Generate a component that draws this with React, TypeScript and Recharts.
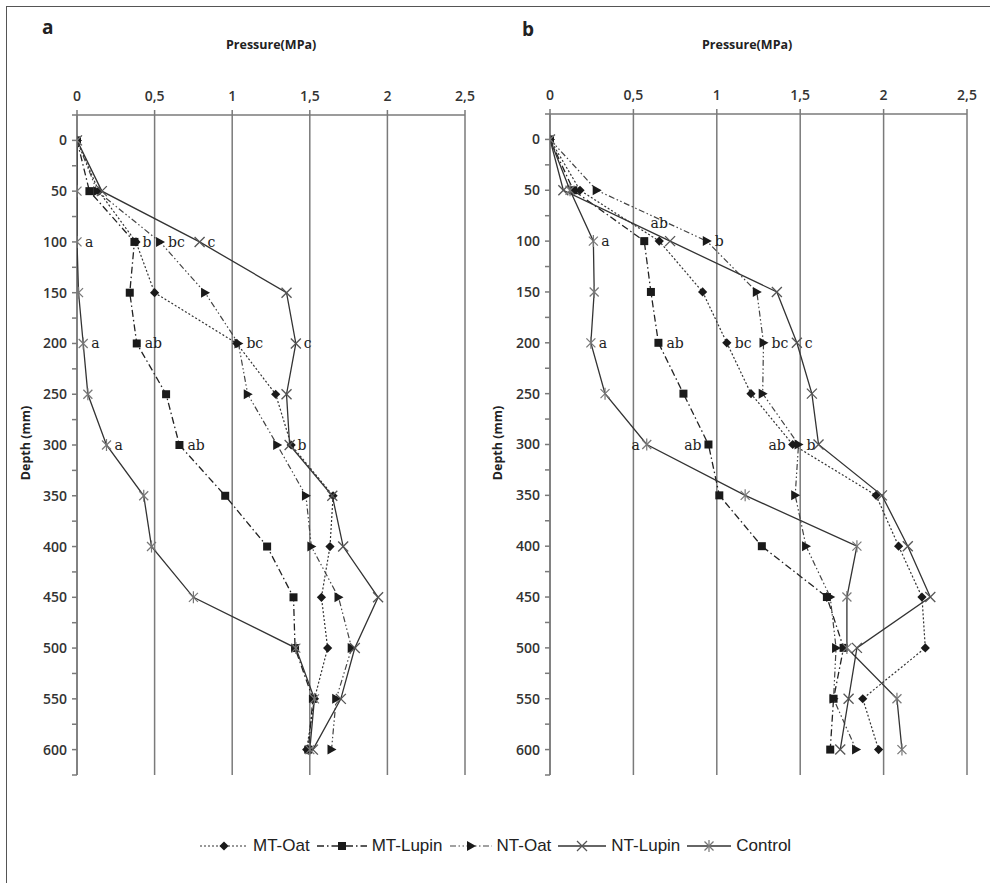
import React from 'react';
import { ScatterChart, Scatter, XAxis, YAxis, CartesianGrid } from 'recharts';

// ---- data ----
const depths = [0, 50, 100, 150, 200, 250, 300, 350, 400, 450, 500, 550, 600];
const seriesNames = ['MT-Oat', 'MT-Lupin', 'NT-Oat', 'NT-Lupin', 'Control'];
const pressureTicks = [0, 0.5, 1, 1.5, 2, 2.5];
const depthTicks = [-25, 0, 25, 50, 75, 100, 125, 150, 175, 200, 225, 250, 275, 300, 325, 350, 375, 400, 425, 450, 475, 500, 525, 550, 575, 600, 625];

// Panel a
const aMTOat = [0, 0.14, 0.38, 0.5, 1.03, 1.28, 1.38, 1.65, 1.63, 1.575, 1.615, 1.53, 1.48];
const aMTLupin = [0, 0.08, 0.37, 0.34, 0.385, 0.574, 0.66, 0.955, 1.225, 1.395, 1.405, 1.52, 1.49];
const aNTOat = [0, 0.13, 0.535, 0.825, 1.04, 1.1, 1.29, 1.475, 1.51, 1.685, 1.77, 1.67, 1.64];
const aNTLupin = [0, 0.16, 0.79, 1.35, 1.41, 1.35, 1.37, 1.645, 1.715, 1.94, 1.79, 1.7, 1.52];
const aControl = [0, 0, 0, 0.01, 0.04, 0.07, 0.19, 0.43, 0.48, 0.75, 1.41, 1.53, 1.5];

// Panel b
const bMTOat = [0, 0.18, 0.655, 0.915, 1.06, 1.205, 1.455, 1.955, 2.09, 2.23, 2.25, 1.875, 1.97];
const bMTLupin = [0, 0.14, 0.565, 0.605, 0.65, 0.8, 0.95, 1.015, 1.27, 1.66, 1.76, 1.7, 1.68];
const bNTOat = [0, 0.28, 0.94, 1.24, 1.28, 1.275, 1.49, 1.47, 1.535, 1.68, 1.715, 1.7, 1.835];
const bNTLupin = [0, 0.08, 0.72, 1.36, 1.48, 1.57, 1.61, 1.99, 2.145, 2.28, 1.84, 1.79, 1.74];
const bControl = [0, 0.12, 0.26, 0.265, 0.245, 0.33, 0.58, 1.17, 1.84, 1.78, 1.78, 2.08, 2.11];

// significance letters: series, depth, text, side of the marker
const lettersA = [
  ['Control', 100, 'a', 'right'], ['MT-Lupin', 100, 'b', 'right'], ['NT-Oat', 100, 'bc', 'right'], ['NT-Lupin', 100, 'c', 'right'],
  ['Control', 200, 'a', 'right'], ['MT-Lupin', 200, 'ab', 'right'], ['NT-Oat', 200, 'bc', 'right'], ['NT-Lupin', 200, 'c', 'right'],
  ['Control', 300, 'a', 'right'], ['MT-Lupin', 300, 'ab', 'right'], ['NT-Lupin', 300, 'b', 'right'],
];
const lettersB = [
  ['Control', 100, 'a', 'right'], ['MT-Oat', 100, 'ab', 'above'], ['NT-Oat', 100, 'b', 'right'],
  ['Control', 200, 'a', 'right'], ['MT-Lupin', 200, 'ab', 'right'], ['MT-Oat', 200, 'bc', 'right'], ['NT-Oat', 200, 'bc', 'right'], ['NT-Lupin', 200, 'c', 'right'],
  ['Control', 300, 'a', 'left'], ['MT-Lupin', 300, 'ab', 'left'], ['MT-Oat', 300, 'ab', 'left'], ['NT-Oat', 300, 'b', 'right'],
];

// ---- styles ----
const DARK = '#1a1a1a';
const GRIDC = '#7a7a7a';

const Diamond = ({ cx, cy }: any) => {
  const r = 4.6;
  return <path d={`M${cx},${cy - r}L${cx + r},${cy}L${cx},${cy + r}L${cx - r},${cy}Z`} fill={DARK} />;
};
const Square = ({ cx, cy }: any) => <rect x={cx - 4} y={cy - 4} width={8} height={8} fill={DARK} />;
const Tri = ({ cx, cy }: any) => (
  <path d={`M${cx - 4},${cy - 5}L${cx + 5},${cy}L${cx - 4},${cy + 5}Z`} fill={DARK} />
);
const XMark = ({ cx, cy }: any) => (
  <g stroke="#555" strokeWidth={1.3}>
    <line x1={cx - 5} y1={cy - 5} x2={cx + 5} y2={cy + 5} />
    <line x1={cx - 5} y1={cy + 5} x2={cx + 5} y2={cy - 5} />
  </g>
);
const Star = ({ cx, cy }: any) => (
  <g stroke="#777" strokeWidth={1.2}>
    <line x1={cx - 4.5} y1={cy - 4.5} x2={cx + 4.5} y2={cy + 4.5} />
    <line x1={cx - 4.5} y1={cy + 4.5} x2={cx + 4.5} y2={cy - 4.5} />
    <line x1={cx} y1={cy - 6} x2={cx} y2={cy + 6} />
  </g>
);

const seriesStyle: Record<string, any> = {
  'MT-Oat': { dash: '2 2', stroke: '#333', width: 1.2, Marker: Diamond, sample: 48 },
  'MT-Lupin': { dash: '7 3 1.5 3', stroke: '#222', width: 1.3, Marker: Square, sample: 50 },
  'NT-Oat': { dash: '6 2.5 1.5 2.5 1.5 2.5', stroke: '#444', width: 1.2, Marker: Tri, sample: 42 },
  'NT-Lupin': { dash: undefined, stroke: '#333', width: 1.3, Marker: XMark, sample: 48 },
  'Control': { dash: undefined, stroke: '#333', width: 1.3, Marker: Star, sample: 44 },
};

const toPoints = (vals: number[]) => vals.map((v, i) => ({ x: v, y: depths[i] }));

const LetterShape = (props: any) => {
  const { cx, cy, payload } = props;
  const side = payload.side;
  let x = cx + 8;
  let y = cy + 5;
  let anchor: any = 'start';
  if (side === 'left') { x = cx - 7; anchor = 'end'; }
  if (side === 'above') { x = cx; y = cy - 13; anchor = 'middle'; }
  return (
    <text x={x} y={y} textAnchor={anchor} fontFamily="DejaVu Serif" fontSize={14} fill="#222">
      {payload.t}
    </text>
  );
};

const tickStyle = { fill: '#333', fontSize: 14, fontFamily: 'Open Sans', fontWeight: 600 };

function Panel({ values, letters, width, height, margin }: any) {
  const letterData = letters.map((l: any) => ({
    x: values[l[0]][depths.indexOf(l[1])],
    y: l[1],
    t: l[2],
    side: l[3],
  }));
  return (
    <ScatterChart width={width} height={height} margin={margin}>
      <CartesianGrid horizontal={false} vertical={true} stroke={GRIDC} strokeWidth={1.5} />
      <XAxis
        type="number"
        dataKey="x"
        orientation="top"
        domain={[0, 2.5]}
        ticks={pressureTicks}
        tickFormatter={(v: number) => String(v).replace('.', ',')}
        height={30}
        tickSize={5}
        tickMargin={9}
        tick={tickStyle}
        stroke={GRIDC}
        strokeWidth={1.5}
        allowDataOverflow
      />
      <YAxis
        type="number"
        dataKey="y"
        reversed
        domain={[-25, 625]}
        ticks={depthTicks}
        interval={0}
        tickFormatter={(v: number) => (v >= 0 && v <= 600 && v % 50 === 0 ? String(v) : '')}
        width={40}
        tickSize={5}
        tickMargin={5}
        tick={tickStyle}
        stroke={GRIDC}
        strokeWidth={1.5}
        allowDataOverflow
      />
      {seriesNames.map((name) => {
        const st = seriesStyle[name];
        const M = st.Marker;
        return (
          <Scatter
            key={name}
            name={name}
            data={toPoints(values[name])}
            line={{ stroke: st.stroke, strokeWidth: st.width, strokeDasharray: st.dash }}
            lineJointType="linear"
            shape={(p: any) => <M cx={p.cx} cy={p.cy} />}
            isAnimationActive={false}
          />
        );
      })}
      <Scatter data={letterData} shape={LetterShape} isAnimationActive={false} />
    </ScatterChart>
  );
}

const LegendItem = ({ name }: any) => {
  const st = seriesStyle[name];
  const M = st.Marker;
  const w = st.sample;
  return (
    <div style={{ display: 'flex', alignItems: 'center', marginRight: 7 }}>
      <svg width={w} height={14} style={{ display: 'block' }}>
        <line x1={0} y1={7} x2={w} y2={7} stroke={st.stroke} strokeWidth={st.width} strokeDasharray={st.dash} />
        <M cx={w / 2} cy={7} />
      </svg>
      <span style={{ marginLeft: 5 }}>{name}</span>
    </div>
  );
};

export default function App() {
  const valsA = { 'MT-Oat': aMTOat, 'MT-Lupin': aMTLupin, 'NT-Oat': aNTOat, 'NT-Lupin': aNTLupin, 'Control': aControl };
  const valsB = { 'MT-Oat': bMTOat, 'MT-Lupin': bMTLupin, 'NT-Oat': bNTOat, 'NT-Lupin': bNTLupin, 'Control': bControl };
  const heading: any = { position: 'absolute', fontFamily: 'Open Sans', fontWeight: 700, color: '#222' };
  const depthLabel: any = {
    position: 'absolute', fontFamily: 'Open Sans', fontWeight: 700, fontSize: 12.5, color: '#222',
    transform: 'translate(-50%, -50%) rotate(-90deg)', whiteSpace: 'nowrap',
  };
  return (
    <div style={{ position: 'absolute', left: 0, top: 0, width: 990, height: 883, overflow: 'hidden', background: '#fff' }}>
      <div style={{ position: 'absolute', left: 6, top: 6, width: 1000, height: 900, border: '1.5px solid #555', boxSizing: 'border-box' }} />
      <div style={{ position: 'absolute', left: 0, top: 0 }}>
        <Panel values={valsA} letters={lettersA} width={485} height={785} margin={{ top: 85, right: 20, bottom: 10, left: 37 }} />
      </div>
      <div style={{ position: 'absolute', left: 480, top: 0 }}>
        <Panel values={valsB} letters={lettersB} width={507} height={785} margin={{ top: 84, right: 20, bottom: 10, left: 30 }} />
      </div>
      <div style={{ ...heading, left: 42, top: 14, fontSize: 19 }}>a</div>
      <div style={{ ...heading, left: 522, top: 16, fontSize: 19 }}>b</div>
      <div style={{ ...heading, left: 226, top: 36, fontSize: 12.5 }}>Pressure(MPa)</div>
      <div style={{ ...heading, left: 702, top: 36, fontSize: 12.5 }}>Pressure(MPa)</div>
      <div style={{ ...depthLabel, left: 25, top: 443 }}>Depth (mm)</div>
      <div style={{ ...depthLabel, left: 497, top: 443 }}>Depth (mm)</div>
      <div style={{
        position: 'absolute', left: 200, top: 834, height: 24, display: 'flex', alignItems: 'center',
        fontFamily: "'Liberation Sans', Arial, sans-serif", fontSize: 17, color: '#222', whiteSpace: 'nowrap',
      }}>
        {seriesNames.map((n) => <LegendItem key={n} name={n} />)}
      </div>
    </div>
  );
}
